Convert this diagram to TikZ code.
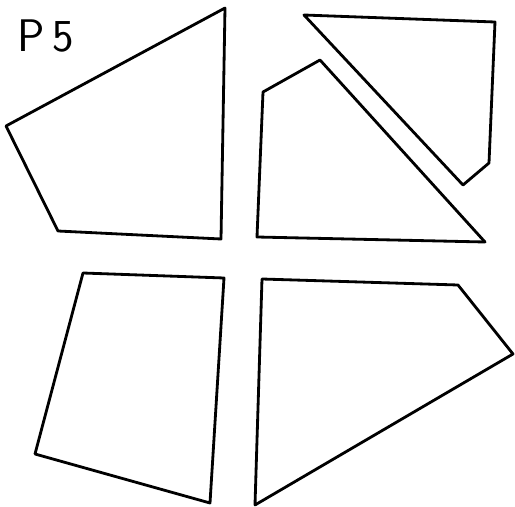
\documentclass[tikz,border=0pt]{standalone}
\tikzstyle{piece} = [line width=1.6pt, line join=round, line cap=round]
\tikzstyle{tag} = [font=\sffamily\fontsize{26}{30}\selectfont, inner sep=0pt]

\begin{document}
\begin{tikzpicture}[x=0.02cm, y=-0.02cm]
\useasboundingbox (0,0) rectangle (515,507);
\node[tag] (title) at (46,36) {P\,5};
% top left piece
\draw[piece] (225,8) -- (6,126) -- (58,231) -- (221,239) -- cycle;
% top middle piece
\draw[piece] (320,60) -- (263,92) -- (257,237) -- (485,242) -- cycle;
% top right piece
\draw[piece] (304,15) -- (495,22) -- (489,163) -- (463,185) -- cycle;
% bottom left piece
\draw[piece] (83,273) -- (224,278) -- (210,503) -- (35,454) -- cycle;
% bottom right piece
\draw[piece] (262,279) -- (458,285) -- (513,354) -- (255,505) -- cycle;
\end{tikzpicture}
\end{document}
